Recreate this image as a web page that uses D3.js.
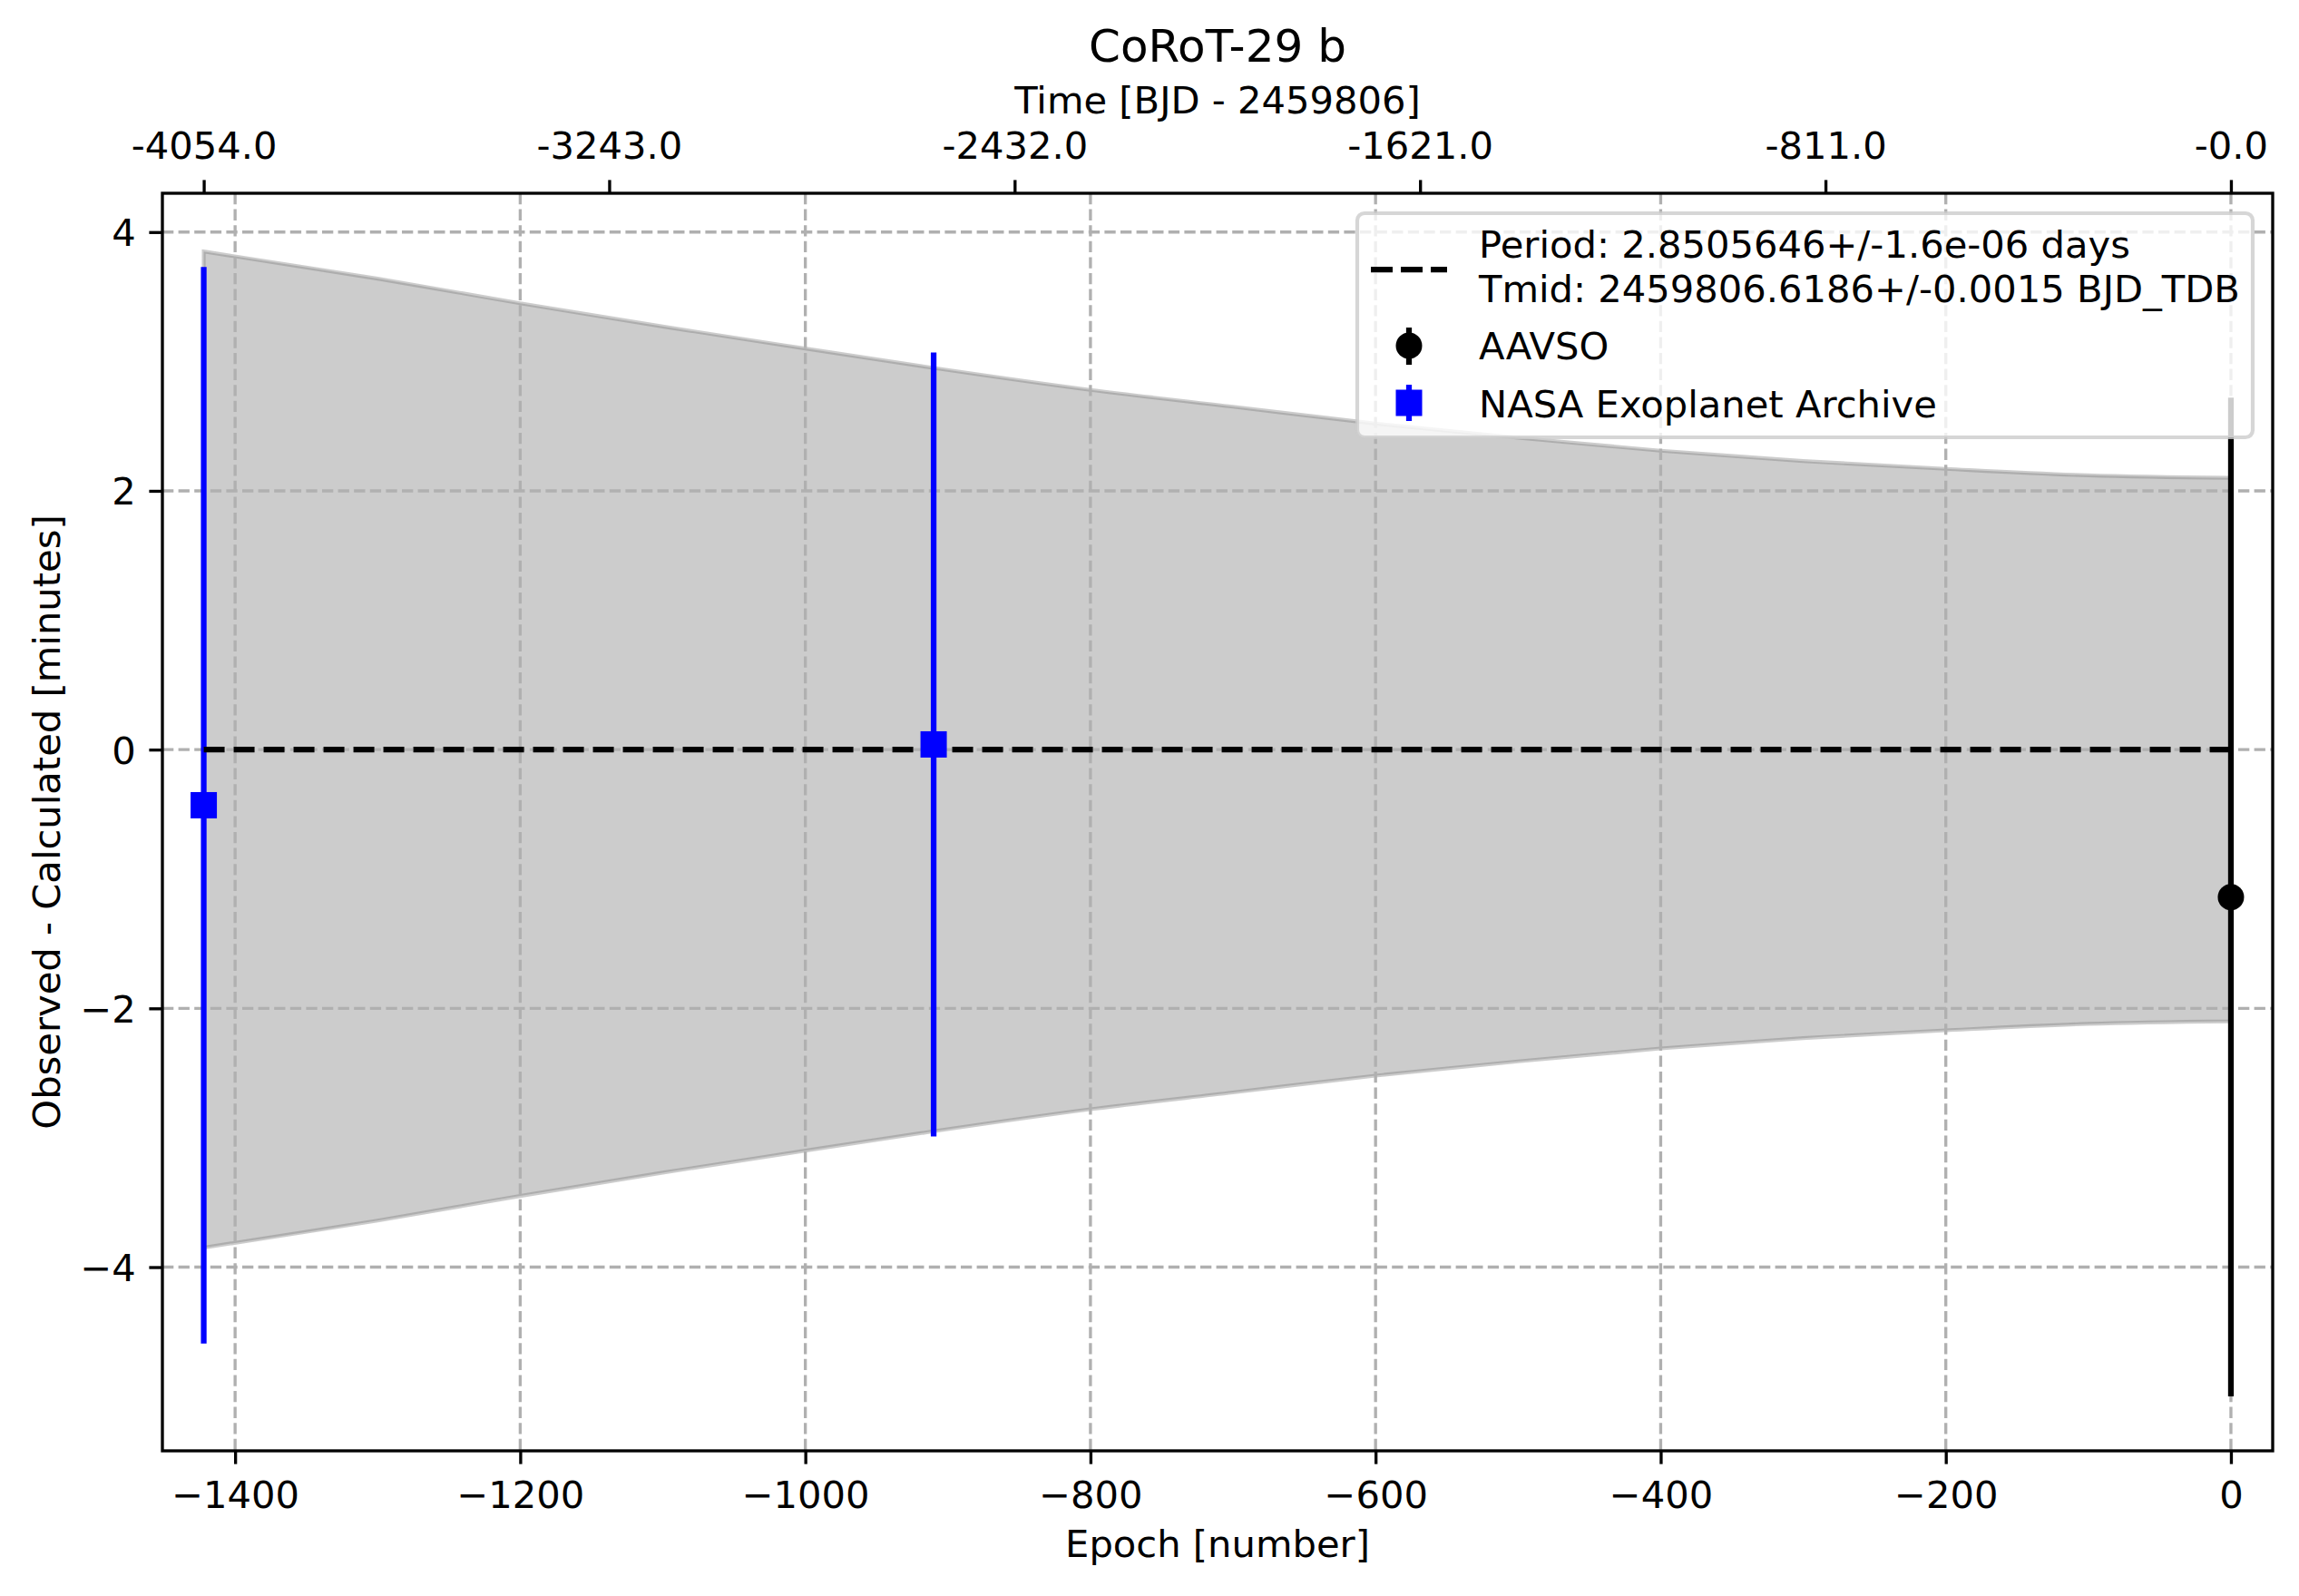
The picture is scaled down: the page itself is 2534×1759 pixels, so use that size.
<!DOCTYPE html>
<html>
<head>
<meta charset="utf-8">
<script src="https://cdn.jsdelivr.net/npm/d3@7"></script>
<style>
  body { margin: 0; background: #fff; }
  text { font-family: "DejaVu Sans", sans-serif; }
</style>
</head>
<body>
<div class="framebody"></div>
<script>
// ---- data ----
var aavsoEpoch = [0];
var aavsoOC    = [-1.14];
var aavsoErr   = [3.86];

var nasaEpoch = [-1422, -910];
var nasaOC    = [-0.43, 0.04];
var nasaErr   = [4.16, 3.03];

// ephemeris uncertainty band (minutes)
var bandEpoch = [-1422, -1300, -1200, -1100, -1000, -910, -800, -700, -600, -500, -400, -300, -200, -100, 0];
var bandUpper = [3.85, 3.64, 3.45, 3.27, 3.10, 2.95, 2.78, 2.65, 2.52, 2.41, 2.31, 2.23, 2.17, 2.12, 2.10];
var bandLower = [-3.85, -3.64, -3.45, -3.27, -3.10, -2.95, -2.78, -2.65, -2.52, -2.41, -2.31, -2.23, -2.17, -2.12, -2.10];

var fitEpoch = [-1422, 0];
var fitOC    = [0, 0];

var xTicks = [-1400, -1200, -1000, -800, -600, -400, -200, 0];
var yTicks = [-4, -2, 0, 2, 4];
var topTickEpochs = [-1422, -1137.6, -853.2, -568.8, -284.4, 0];
var topTickLabels = ["-4054.0", "-3243.0", "-2432.0", "-1621.0", "-811.0", "-0.0"];

var legendLabels = [["Period: 2.8505646+/-1.6e-06 days", "Tmid: 2459806.6186+/-0.0015 BJD_TDB"], ["AAVSO"], ["NASA Exoplanet Archive"]];

// ---- geometry ----
var W = 2534, H = 1759;
var plotL = 179, plotR = 2505, plotT = 213, plotB = 1599;
var fs = 41.67, lw = 6.25, tick = 14.6, thin = 3.33;

var svg = d3.select(".framebody").append("svg")
    .attr("width", W).attr("height", H)
    .style("display", "block");

var x = d3.scaleLinear().domain([-1451, 29.3]).range([plotL, plotR]);
var y = d3.scaleLinear().domain([-5.42, 4.30]).range([plotB, plotT]);

// band
var band = bandEpoch.map(function(e, i) { return {e: e, lo: bandLower[i], hi: bandUpper[i]}; });
var area = d3.area()
    .x(function(d) { return x(d.e); })
    .y0(function(d) { return y(d.lo); })
    .y1(function(d) { return y(d.hi); })
    .curve(d3.curveMonotoneX);

svg.append("path")
    .datum(band)
    .attr("d", area)
    .attr("fill", "#808080").attr("fill-opacity", 0.4)
    .attr("stroke", "#808080").attr("stroke-opacity", 0.4)
    .attr("stroke-width", 4.17);

// grid
var grid = svg.append("g").attr("class", "grid")
    .attr("stroke", "#b0b0b0").attr("stroke-width", thin)
    .attr("stroke-dasharray", "12.3,5.3");
grid.selectAll(".gx").data(xTicks).enter().append("line")
    .attr("x1", function(d) { return x(d); }).attr("x2", function(d) { return x(d); })
    .attr("y1", plotT).attr("y2", plotB);
grid.selectAll(".gy").data(yTicks).enter().append("line")
    .attr("y1", function(d) { return y(d); }).attr("y2", function(d) { return y(d); })
    .attr("x1", plotL).attr("x2", plotR);

// error bars
function bars(ep, oc, err, color) {
    svg.append("g").selectAll("line").data(ep).enter().append("line")
        .attr("x1", function(d) { return x(d); }).attr("x2", function(d) { return x(d); })
        .attr("y1", function(d, i) { return y(oc[i] - err[i]); })
        .attr("y2", function(d, i) { return y(oc[i] + err[i]); })
        .attr("stroke", color).attr("stroke-width", lw);
}
bars(aavsoEpoch, aavsoOC, aavsoErr, "#000");
bars(nasaEpoch, nasaOC, nasaErr, "#0000ff");

// linear ephemeris (dashed)
var line = d3.line().x(function(d, i) { return x(fitEpoch[i]); }).y(function(d) { return y(d); });
svg.append("path")
    .attr("d", line(fitOC))
    .attr("fill", "none").attr("stroke", "#000")
    .attr("stroke-width", lw).attr("stroke-dasharray", "23,10");

// markers
svg.append("g").selectAll("circle").data(aavsoEpoch).enter().append("circle")
    .attr("cx", function(d) { return x(d); })
    .attr("cy", function(d, i) { return y(aavsoOC[i]); })
    .attr("r", 14.5).attr("fill", "#000");
svg.append("g").selectAll("rect").data(nasaEpoch).enter().append("rect")
    .attr("x", function(d) { return x(d) - 14.5; })
    .attr("y", function(d, i) { return y(nasaOC[i]) - 14.5; })
    .attr("width", 29).attr("height", 29).attr("fill", "#0000ff");

// axes
function styleAxis(g) {
    g.select(".domain").remove();
    g.selectAll(".tick line").attr("stroke", "#000").attr("stroke-width", thin);
    g.selectAll(".tick text").attr("fill", "#000")
        .style("font-size", fs + "px").style("font-family", "'DejaVu Sans', sans-serif");
}

svg.append("g")
    .attr("transform", "translate(0," + plotB + ")")
    .call(d3.axisBottom(x).tickValues(xTicks).tickFormat(d3.format("d"))
        .tickSize(tick).tickPadding(tick).tickSizeOuter(0))
    .call(styleAxis)
    .selectAll(".tick text").attr("dy", "0.8em");

svg.append("g")
    .attr("transform", "translate(" + plotL + ",0)")
    .call(d3.axisLeft(y).tickValues(yTicks).tickFormat(d3.format("d"))
        .tickSize(tick).tickPadding(tick).tickSizeOuter(0))
    .call(styleAxis)
    .selectAll(".tick text").attr("dy", "0.36em");

svg.append("g")
    .attr("transform", "translate(0," + plotT + ")")
    .call(d3.axisTop(x).tickValues(topTickEpochs).tickSize(tick).tickPadding(tick).tickSizeOuter(0)
        .tickFormat(function(d, i) { return topTickLabels[i]; }))
    .call(styleAxis)
    .selectAll(".tick text").attr("dy", "-0.21em");

// frame
svg.append("rect")
    .attr("x", plotL).attr("y", plotT)
    .attr("width", plotR - plotL).attr("height", plotB - plotT)
    .attr("fill", "none").attr("stroke", "#000").attr("stroke-width", thin);

// labels
var cx = (plotL + plotR) / 2;
svg.append("text").attr("x", cx).attr("y", 68).attr("text-anchor", "middle")
    .style("font-size", "50px").text("CoRoT-29 b");
svg.append("text").attr("x", cx).attr("y", 125).attr("text-anchor", "middle")
    .style("font-size", fs + "px").text("Time [BJD - 2459806]");
svg.append("text").attr("x", cx).attr("y", 1716).attr("text-anchor", "middle")
    .style("font-size", fs + "px").text("Epoch [number]");
svg.append("text")
    .attr("transform", "translate(66," + ((plotT + plotB) / 2) + ") rotate(-90)")
    .attr("text-anchor", "middle")
    .style("font-size", fs + "px").text("Observed - Calculated [minutes]");

// legend
var leg = svg.append("g").attr("class", "legend");
leg.append("rect")
    .attr("x", 1496).attr("y", 235).attr("width", 987).attr("height", 247)
    .attr("rx", 8).attr("ry", 8)
    .attr("fill", "#fff").attr("fill-opacity", 0.8)
    .attr("stroke", "#cccccc").attr("stroke-opacity", 0.8).attr("stroke-width", 4.17);

var hx = 1553, tx = 1630;
leg.append("line")
    .attr("x1", 1511).attr("x2", 1595).attr("y1", 297).attr("y2", 297)
    .attr("stroke", "#000").attr("stroke-width", lw).attr("stroke-dasharray", "24,9");
leg.append("line")
    .attr("x1", hx).attr("x2", hx).attr("y1", 361).attr("y2", 402)
    .attr("stroke", "#000").attr("stroke-width", lw);
leg.append("circle").attr("cx", hx).attr("cy", 381).attr("r", 14.5).attr("fill", "#000");
leg.append("line")
    .attr("x1", hx).attr("x2", hx).attr("y1", 424).attr("y2", 464)
    .attr("stroke", "#0000ff").attr("stroke-width", lw);
leg.append("rect").attr("x", hx - 14.5).attr("y", 444 - 14.5)
    .attr("width", 29).attr("height", 29).attr("fill", "#0000ff");

var baselines = [[284, 333], [396], [460]];
legendLabels.forEach(function(lines, k) {
    lines.forEach(function(t, j) {
        leg.append("text").attr("x", tx).attr("y", baselines[k][j])
            .style("font-size", fs + "px").text(t);
    });
});
</script>
</body>
</html>
